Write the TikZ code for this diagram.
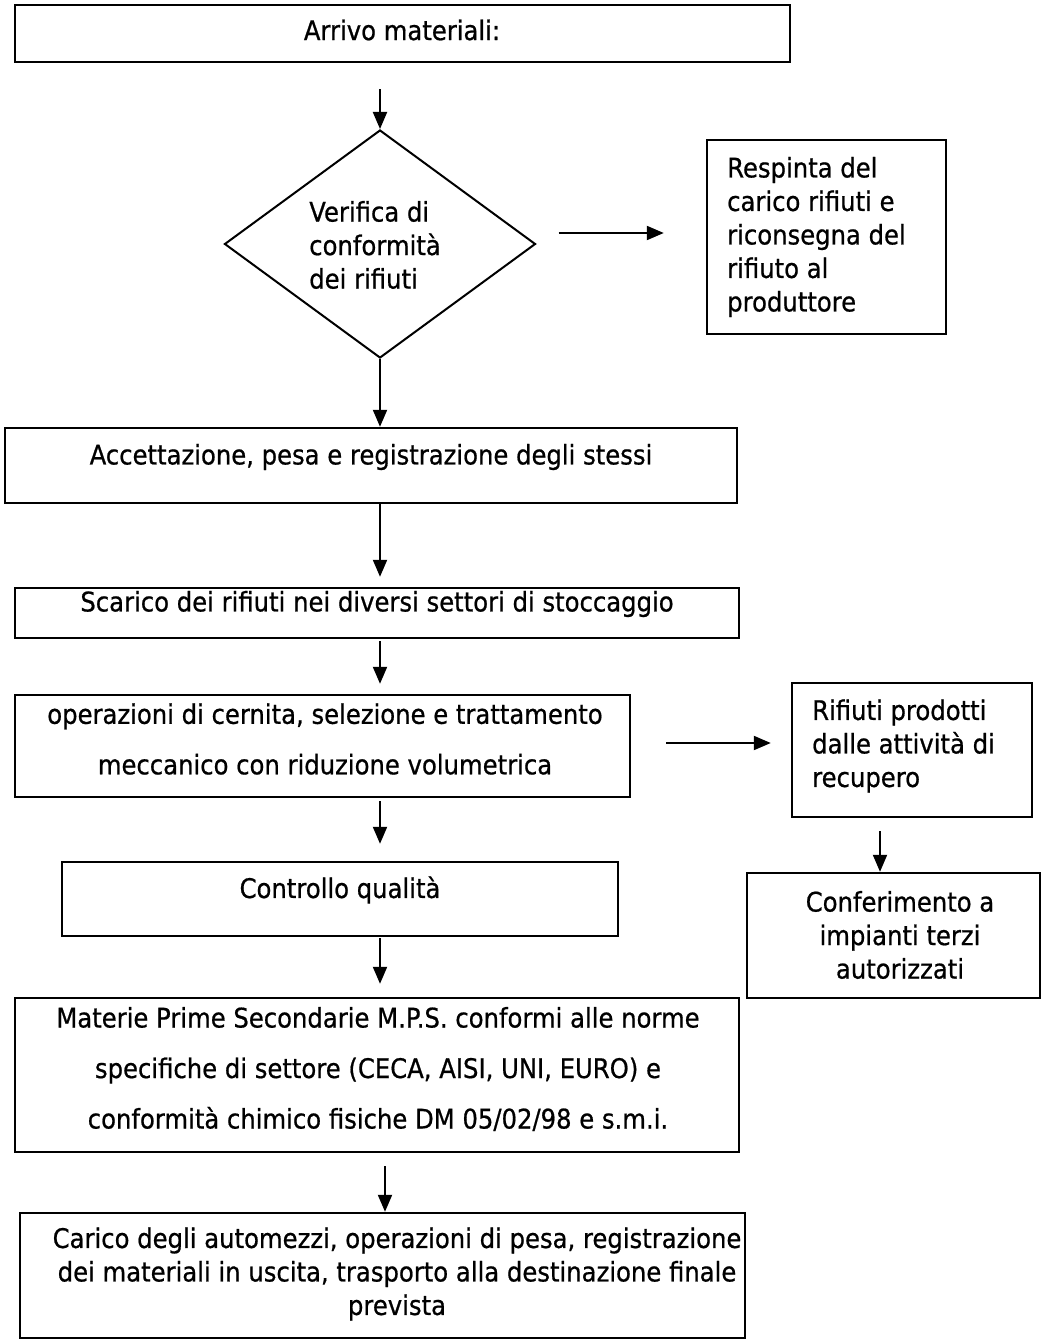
\documentclass[tikz,border=0pt]{standalone}
\usepackage{fontspec}
\setmainfont{DejaVu Sans}[FakeStretch=0.9,UprightFeatures={FakeBold=0.7}]
\usetikzlibrary{shapes.geometric,arrows.meta,fit}
\tikzset{
  box/.style={draw, line width=2.4pt, inner sep=0pt},
  txt/.style={inner sep=0pt, align=center, font=\fontsize{27}{33.5}\selectfont},
  txtl/.style={txt, align=left, anchor=west},
  wide/.style={font=\fontsize{27}{50.5}\selectfont},
  arr/.style={line width=2pt, -{Triangle[length=17pt,width=14pt]}},
}
\begin{document}
\begin{tikzpicture}[x=1pt,y=-1pt]
\useasboundingbox (0,0) rectangle (1042,1340);
% boxes
\node[box, fit={(15,5) (790,62)}] (b1) {};
\node[draw, diamond, line width=2pt, minimum width=311pt, minimum height=228pt, inner sep=0pt] (dia) at (380,244) {};
\node[box, fit={(707,140) (946,334)}] (resp) {};
\node[box, fit={(5,428) (737,503)}] (b3) {};
\node[box, fit={(15,588) (739,638)}] (b4) {};
\node[box, fit={(15,695) (630,797)}] (b5) {};
\node[box, fit={(792,683) (1032,817)}] (rif) {};
\node[box, fit={(62,862) (618,936)}] (cq) {};
\node[box, fit={(747,873) (1040,998)}] (conf) {};
\node[box, fit={(15,998) (739,1152)}] (mps) {};
\node[box, fit={(20,1213) (745,1338)}] (cari) {};
% texts
\node[txt] (b1t) at (402,30) {Arrivo materiali:};
\node[txt, align=left] (diat) at (375,245) {Verifica di\\conformità\\dei rifiuti};
\node[txtl] (respt) at (727,237) {Respinta del\\carico rifiuti e\\riconsegna del\\rifiuto al\\produttore};
\node[txt] (b3t) at (371,457) {Accettazione, pesa e registrazione degli stessi};
\node[txt] (b4t) at (377,604) {Scarico dei rifiuti nei diversi settori di stoccaggio};
\node[txt, wide] (b5t) at (325,739) {operazioni di cernita, selezione e trattamento\\meccanico con riduzione volumetrica};
\node[txtl] (rift) at (812,746) {Rifiuti prodotti\\dalle attività di\\recupero};
\node[txt] (cqt) at (340,890) {Controllo qualità};
\node[txt] (conft) at (900,935) {Conferimento a\\impianti terzi\\autorizzati};
\node[txt, wide] (mpst) at (378,1069) {Materie Prime Secondarie M.P.S. conformi alle norme\\specifiche di settore (CECA, AISI, UNI, EURO) e\\conformità chimico fisiche DM 05/02/98 e s.m.i.};
\node[txt] (carit) at (397,1274) {Carico degli automezzi, operazioni di pesa, registrazione\\dei materiali in uscita, trasporto alla destinazione finale\\prevista};
% connectors
\draw[arr, shorten <=26pt] (b1.south -| dia.north) -- (dia.north);
\draw[arr] (dia.south) -- (dia.south |- b3.north);
\draw[arr, shorten <=22pt, shorten >=42pt] ([yshift=11pt]dia.east) -- ([yshift=11pt]dia.east -| resp.west);
\draw[arr, shorten >=10pt] (b3.south -| dia.south) -- (b4.north -| dia.south);
\draw[arr, shorten <=2pt, shorten >=10pt] (b4.south -| dia.south) -- (b5.north -| dia.south);
\draw[arr, shorten <=3pt, shorten >=17pt] (b5.south -| dia.south) -- (cq.north -| dia.south);
\draw[arr, shorten <=1pt, shorten >=13pt] (cq.south -| dia.south) -- (mps.north -| dia.south);
\draw[arr, shorten <=13pt] ([xshift=5pt]mps.south -| dia.south) -- ([xshift=5pt]cari.north -| dia.south);
\draw[arr, shorten <=35pt, shorten >=20pt] ([yshift=3pt]b5.east) -- ([yshift=3pt]b5.east -| rif.west);
\draw[arr, shorten <=13pt] ([xshift=-32pt]rif.south) -- ([xshift=-32pt]rif.south |- conf.north);
\end{tikzpicture}
\end{document}
